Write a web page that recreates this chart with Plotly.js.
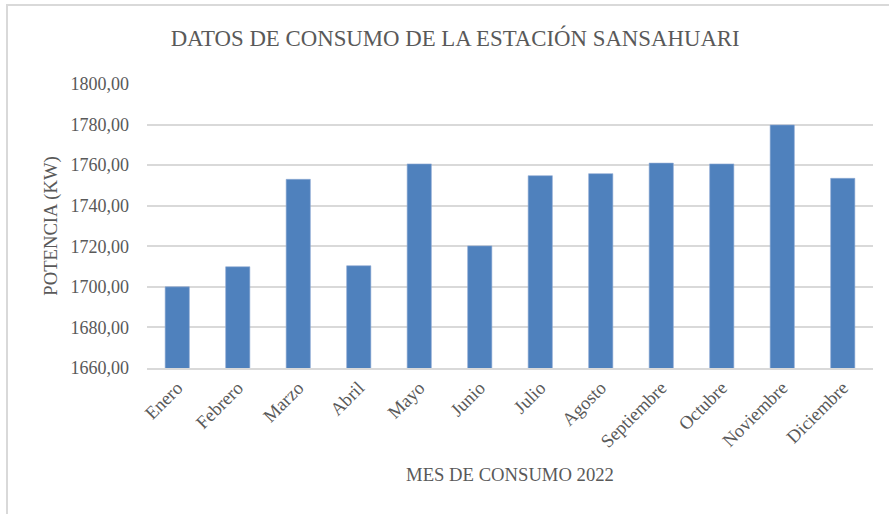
<!DOCTYPE html>
<html>
<head>
<meta charset="utf-8">
<script src="https://cdn.plot.ly/plotly-3.0.1.min.js"></script>
<style>
html,body{margin:0;padding:0;background:#fff;}
#wrap{position:relative;width:889px;height:514px;overflow:hidden;}
#chart{position:absolute;left:0;top:0;width:889px;height:514px;}
#frame{position:absolute;left:6px;top:4px;width:900px;height:600px;border-left:2px solid #d9d9d9;border-top:2px solid #d9d9d9;pointer-events:none;}
</style>
</head>
<body>
<div id="wrap"><div id="chart"></div><div id="frame"></div></div>
<script>
const months = ["Enero","Febrero","Marzo","Abril","Mayo","Junio","Julio","Agosto","Septiembre","Octubre","Noviembre","Diciembre"];
const potencia = [1700.0, 1709.9, 1753.0, 1710.4, 1760.6, 1720.2, 1754.8, 1755.8, 1761.0, 1760.6, 1779.8, 1753.5];
const titleText = "DATOS DE CONSUMO DE LA ESTACIÓN SANSAHUARI";
const xTitle = "MES DE CONSUMO 2022";
const yTitle = "POTENCIA (KW)";

const serif = "'Liberation Serif', 'Times New Roman', serif";
const grey = "#595959";

Plotly.newPlot("chart", [{
  type: "bar",
  x: months,
  y: potencia,
  marker: {color: "#4f81bd", line: {color: "#8eaad4", width: 0.6}},
  hoverinfo: "x+y"
}], {
  width: 889, height: 514,
  margin: {l: 147, r: 16, t: 84, b: 146, pad: 0},
  paper_bgcolor: "rgba(0,0,0,0)",
  plot_bgcolor: "rgba(0,0,0,0)",
  separators: ",.",
  bargap: 0.6,
  showlegend: false,
  font: {family: serif, color: grey, size: 18},
  title: {text: titleText, font: {family: serif, size: 22.8, color: grey}, x: 0.512, xref: "container", xanchor: "center", y: 0.926, yref: "container", yanchor: "middle"},
  xaxis: {
    type: "category",
    tickangle: -45,
    tickfont: {family: serif, size: 18.5, color: grey},
    showgrid: false,
    showline: true, linecolor: "#d9d9d9", linewidth: 1.5,
    ticks: "",
    title: {text: xTitle, font: {family: serif, size: 18.67, color: grey}, standoff: 17}
  },
  yaxis: {
    range: [1660, 1800],
    dtick: 20, tick0: 1660,
    tickformat: ".2f",
    tickfont: {family: serif, size: 18, color: grey},
    showgrid: true, gridcolor: "#d9d9d9", gridwidth: 1.5,
    zeroline: false, showline: false, ticks: "",
    ticklabelstandoff: 17,
    title: {text: yTitle, font: {family: serif, size: 18.67, color: grey}, standoff: 7}
  }
}, {displayModeBar: false});
</script>
</body>
</html>
